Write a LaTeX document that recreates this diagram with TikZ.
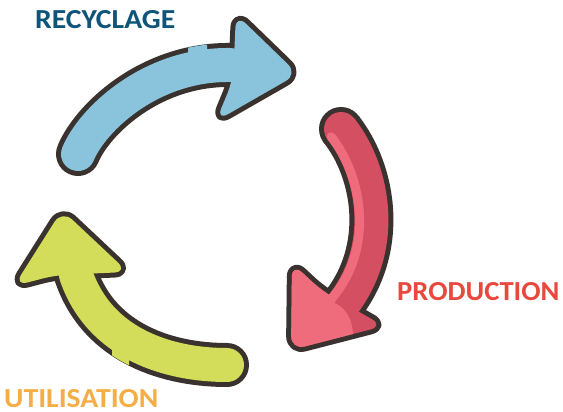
\documentclass[tikz,border=0pt]{standalone}
\usepackage{fontspec}
\setmainfont{Carlito}
\newfontfamily\lblfont{Carlito}[FakeStretch=1.08]
\newfontfamily\lblfontn{Carlito}[FakeStretch=1.04]
\definecolor{outl}{HTML}{3A322E}
\definecolor{bluef}{HTML}{8AC4DC}
\definecolor{redd}{HTML}{D44F61}
\definecolor{redl}{HTML}{EE6C7C}
\definecolor{greenf}{HTML}{D3DD5A}
\definecolor{txtblue}{HTML}{0F5479}
\definecolor{txtred}{HTML}{E8483D}
\definecolor{txtorange}{HTML}{F5AE45}
\tikzset{
  shaftout/.style={draw=outl, line width=44pt},
  shaftfill/.style={line width=34pt},
  gapfill/.style={line width=43pt},
  headout/.style={draw=outl, fill=outl, line width=10pt, line join=round, rounded corners=14pt},
  headfill/.style={rounded corners=14pt},
  txtlabel/.style={font=\fontsize{27.5}{27.5}\selectfont\lblfont\bfseries, inner sep=0pt, anchor=base west},
}
\begin{document}
\begin{tikzpicture}[x=1pt,y=-1pt]
\useasboundingbox (0,0) rectangle (563,412);

% ---------- blue arrow (RECYCLAGE) ----------
\draw[shaftout, line cap=round] (78,154) .. controls (92,120) and (150,64) .. (230,65);
\path[headout] (234.5,47) -- (236,14) -- (298,74) -- (216,121) -- (233,80) -- cycle;
\draw[bluef, shaftfill, line cap=round] (78,154) .. controls (92,120) and (150,64) .. (230,65);
\fill[bluef, headfill] (234.5,47) -- (236,14) -- (298,74) -- (216,121) -- (233,80) -- cycle;
\begin{scope}
  \clip (188,35) rectangle (207,60);
  \draw[bluef, gapfill] (78,154) .. controls (92,120) and (150,64) .. (230,65);
\end{scope}

% ---------- red arrow (PRODUCTION) ----------
\draw[shaftout, line cap=butt] (341,129) .. controls (375,172) and (388,250) .. (340,308);
\fill[outl] (341,129) circle (22pt);
\path[headout] (353,308.5) -- (384,326) -- (291,350) -- (292,263) -- (322,291) -- cycle;
\fill[redd, headfill] (353,308.5) -- (384,326) -- (291,350) -- (292,263) -- (322,291) -- cycle;
\draw[redd, shaftfill, line cap=butt] (341,129) .. controls (375,172) and (388,250) .. (340,308);
\fill[redd] (341,129) circle (17pt);
\draw[redl, line width=9pt, line cap=round] (331.2,136.8) .. controls (363,177) and (375,250) .. (330.4,300);
\begin{scope}
  \clip[headfill] (353,308.5) -- (384,326) -- (291,350) -- (292,263) -- (322,291) -- cycle;
  \fill[redl] (270,250) -- (350,272) -- (334.5,303) .. controls (352,310) and (358,335) .. (349,362) -- (270,362) -- cycle;
\end{scope}

% ---------- green arrow (UTILISATION) ----------
\draw[shaftout, line cap=round] (227,365) .. controls (170,365) and (100,345) .. (76,275);
\path[headout] (92,273.5) -- (128,272) -- (62,210) -- (14,286) -- (56,275) -- cycle;
\draw[greenf, shaftfill, line cap=round] (227,365) .. controls (170,365) and (100,345) .. (76,275);
\fill[greenf, headfill] (92,273.5) -- (128,272) -- (62,210) -- (14,286) -- (56,275) -- cycle;
\begin{scope}
  \clip (112,345) rectangle (129,375);
  \draw[greenf, gapfill] (227,365) .. controls (170,365) and (100,345) .. (76,275);
\end{scope}

% ---------- labels ----------
\node[txtlabel, text=txtblue] (recyclage) at (35,29) {RECYCLAGE};
\node[txtlabel, text=txtred, font=\fontsize{27.5}{27.5}\selectfont\lblfontn\bfseries] (production) at (397,300) {PRODUCTION};
\node[txtlabel, text=txtorange] (utilisation) at (4,407.5) {UTILISATION};
\end{tikzpicture}
\end{document}
